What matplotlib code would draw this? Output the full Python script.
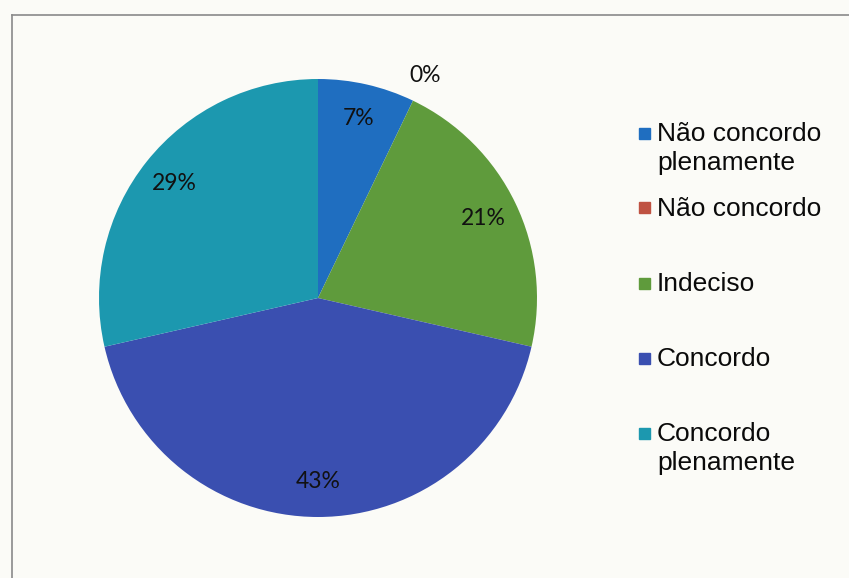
import numpy as np
import matplotlib.pyplot as plt
from matplotlib.patches import Rectangle

categories = ['Não concordo\nplenamente', 'Não concordo', 'Indeciso', 'Concordo',
              'Concordo\nplenamente']
respostas = [1, 0, 3, 6, 4]
colors = ['#1f6ec0', '#bf5242', '#5f9b3c', '#3a4fb0', '#1c98af']

W, H = 849, 578
fig = plt.figure(figsize=(W / 100, H / 100), dpi=100, facecolor='#fbfbf7')

# outer chart frame (left/top edges)
fig.add_artist(plt.Line2D([12 / W, 12 / W], [0, 1 - 15 / H], color='#8a8a8a', lw=1.2))
fig.add_artist(plt.Line2D([12 / W, 1], [1 - 15 / H, 1 - 15 / H], color='#8a8a8a', lw=1.2))

cx, cy, r = 318, 298, 219
ax = fig.add_axes([(cx - r) / W, (H - cy - r) / H, 2 * r / W, 2 * r / H])
wedges, _ = ax.pie(respostas, colors=colors, startangle=90, counterclock=False,
                   wedgeprops=dict(linewidth=0))
ax.set_xlim(-1, 1)
ax.set_ylim(-1, 1)
ax.set_aspect('equal')
ax.axis('off')

total = sum(respostas)
for w, n in zip(wedges, respostas):
    pct = 100 * n / total
    mid = np.deg2rad((w.theta1 + w.theta2) / 2)
    dist = 1.13 if n == 0 else 0.84
    ax.text(dist * np.cos(mid), dist * np.sin(mid), f'{pct:.0f}%', ha='center',
            va='center', fontsize=16.5, family='Lato', color='#111111')

# legend
for i, (lab, col) in enumerate(zip(categories, colors)):
    y = 133 + 75 * i
    fig.add_artist(Rectangle((639 / W, 1 - (y + 5.5) / H), 11 / W, 11 / H,
                             color=col, transform=fig.transFigure))
    fig.text(657 / W, 1 - (y - 11) / H, lab, ha='left', va='top', fontsize=19,
             family='Liberation Sans', color='#0a0a0a', linespacing=1.27)

fig.savefig('out.png', dpi=100, facecolor=fig.get_facecolor())
